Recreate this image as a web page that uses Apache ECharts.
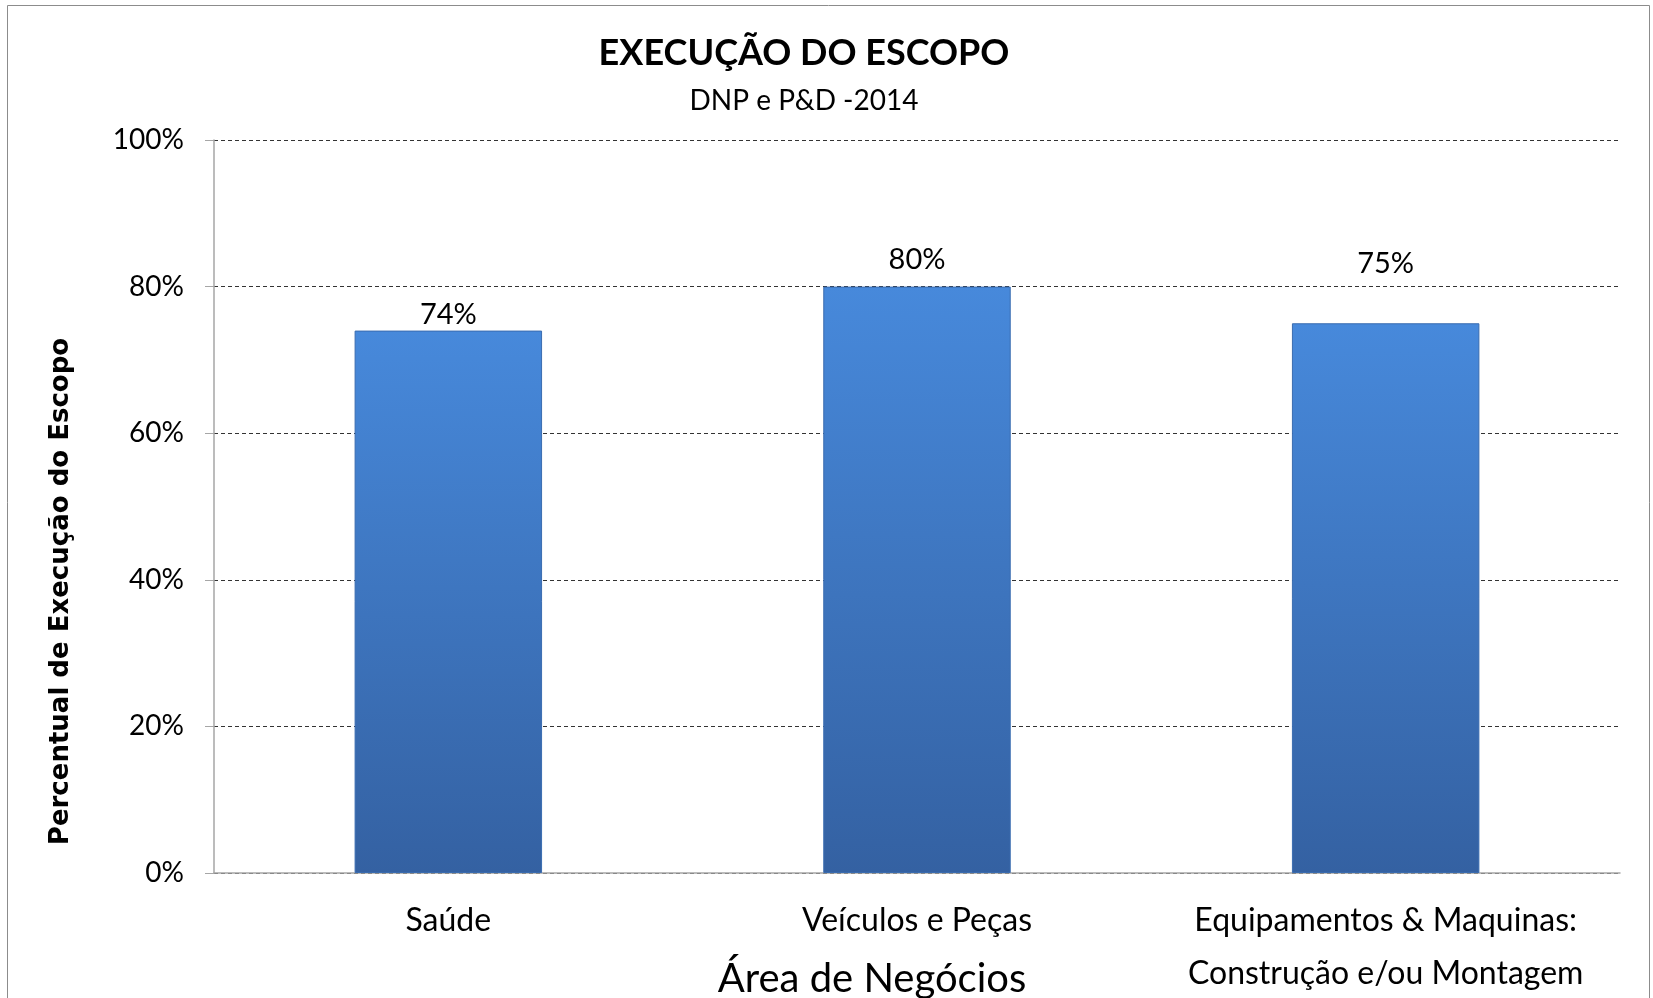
<!DOCTYPE html>
<html>
<head>
<meta charset="utf-8">
<script src="https://cdn.jsdelivr.net/npm/echarts@6/dist/echarts.min.js"></script>
<style>
html,body{margin:0;padding:0;background:#fff;}
#chart{width:1653px;height:998px;}
</style>
</head>
<body>
<div id="chart"></div>
<script>
var categories = ['Saúde', 'Veículos e Peças', 'Equipamentos & Maquinas:\nConstrução e/ou Montagem'];
var values = [0.74, 0.80, 0.75];
var yTicks = [0, 0.2, 0.4, 0.6, 0.8, 1.0];

var labelDistances = [1, 12, 45];
var font = 'Lato, "Open Sans", sans-serif';

var chart = echarts.init(document.getElementById('chart'));
var barColor = new echarts.graphic.LinearGradient(0, 0, 0, 1, [
  {offset: 0, color: '#4789DB'},
  {offset: 1, color: '#3461A2'}
]);

var option = {
  backgroundColor: '#ffffff',
  animation: false,
  title: {
    text: 'EXECUÇÃO DO ESCOPO',
    subtext: 'DNP e P&D -2014',
    left: 799,
    textAlign: 'center',
    top: 30,
    padding: 5,
    itemGap: 16,
    textStyle: {fontFamily: font, fontWeight: 'bold', fontSize: 36, color: '#000'},
    subtextStyle: {fontFamily: font, fontSize: 28, color: '#000'}
  },
  graphic: [{
    type: 'rect',
    shape: {x: 7.5, y: 5.5, width: 1642, height: 1000},
    style: {fill: 'none', stroke: '#8c8c8c', lineWidth: 1},
    silent: true
  }],
  grid: {left: 214, right: 33, top: 140, bottom: 125, outerBoundsMode: 'none', containLabel: false},
  xAxis: {
    type: 'category',
    data: categories,
    name: 'Área de Negócios',
    nameLocation: 'middle',
    nameGap: 86,
    nameMoveOverlap: false,
    nameTextStyle: {fontFamily: font, fontSize: 40, color: '#000', padding: [0, 90, 0, 0]},
    axisLine: {lineStyle: {color: '#a6a6a6', width: 1.5}},
    axisTick: {show: false},
    axisLabel: {
      fontFamily: font, fontSize: 32, color: '#000',
      margin: 21, lineHeight: 53, interval: 0
    }
  },
  yAxis: {
    type: 'value',
    min: 0, max: 1, interval: 0.2,
    name: 'Percentual de Execução do Escopo',
    nameLocation: 'middle',
    nameGap: 140,
    nameRotate: 90,
    nameMoveOverlap: false,
    nameTextStyle: {
      fontFamily: '"DejaVu Sans", sans-serif', fontWeight: 'bold', fontSize: 26, color: '#000',
      padding: [0, 170, 0, 0]
    },
    axisLine: {show: true, lineStyle: {color: '#a6a6a6', width: 1.5}},
    axisTick: {show: true, length: 9, lineStyle: {color: '#a6a6a6'}},
    axisLabel: {
      fontFamily: font, fontSize: 28, color: '#000', margin: 30,
      formatter: function (v) {
        var t = yTicks.find(function (x) { return Math.abs(x - v) < 1e-9; });
        return t === undefined ? '' : Math.round(t * 100) + '%';
      }
    },
    splitLine: {show: true, lineStyle: {color: '#333', type: [4, 3], width: 1}}
  },
  series: [{
    type: 'bar',
    barWidth: '40%',
    data: values.map(function (v, i) {
      return {value: v, label: {distance: labelDistances[i]}};
    }),
    itemStyle: {color: barColor, borderColor: '#3a6cb0', borderWidth: 1},
    label: {
      show: true, position: 'top',
      fontFamily: font, fontSize: 29, color: '#000',
      formatter: function (p) { return Math.round(p.value * 100) + '%'; }
    },
    z: 1
  }]
};
chart.setOption(option);
</script>
</body>
</html>
